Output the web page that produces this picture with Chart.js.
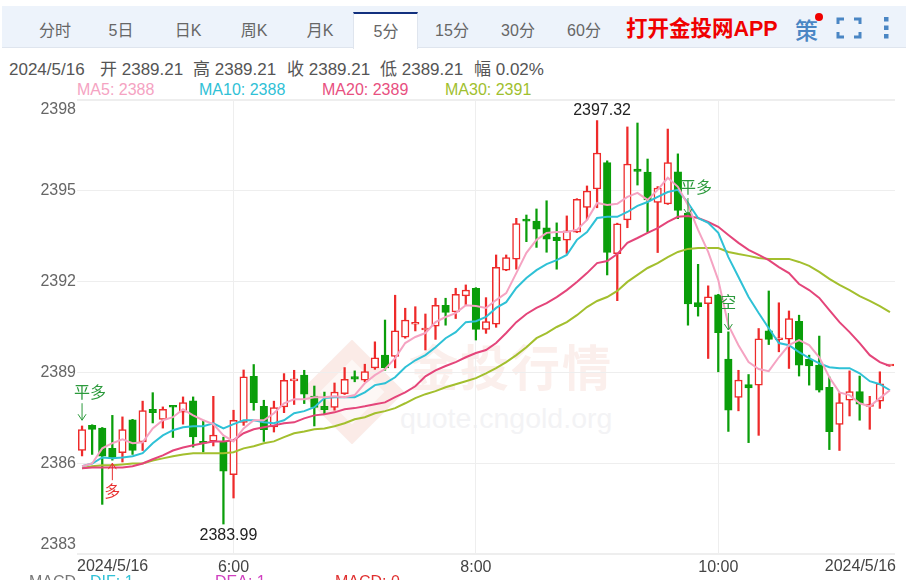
<!DOCTYPE html>
<html lang="zh">

<head>
    <meta charset="UTF-8">
    <title>5分K线</title>
    <script src="https://cdn.jsdelivr.net/npm/chart.js"></script>
    <style>
        html, body { margin: 0; padding: 0; background: #fff; overflow: hidden; }
        body { width: 912px; height: 580px; position: relative; font-family: "Liberation Sans", Arial, "Noto Sans CJK SC", sans-serif; color: #555; }
        .abs { position: absolute; white-space: nowrap; }
        #bar { left: 2px; top: 6px; width: 904px; height: 42px; background: #edf3fb; border-bottom: 1px solid #dfe5ee; box-sizing: border-box; }
        #active { left: 353px; top: 12px; width: 65px; height: 37px; background: #fff; border-top: 2px solid #12307e; border-left: 1px solid #dfe5ee; border-right: 1px solid #dfe5ee; box-sizing: border-box; }
        .tab { top: 21px; width: 66px; text-align: center; font-size: 16px; line-height: 20px; color: #666; font-family: "Liberation Sans", "Noto Sans CJK SC", sans-serif; }
        #app { left: 626px; top: 15px; font-size: 21.5px; line-height: 28px; font-weight: bold; color: #f00000; font-family: "Liberation Sans", "Noto Sans CJK SC", sans-serif; }
        #ce { left: 795px; top: 15px; font-size: 23px; line-height: 28px; font-weight: 500; color: #4a86c4; font-family: "Noto Sans CJK SC", sans-serif; }
        #dot { left: 815px; top: 13px; width: 8px; height: 8px; border-radius: 50%; background: #f00000; }
        #info { left: 9px; top: 60px; font-size: 17px; line-height: 20px; color: #555; }
        #info span { position: absolute; top: 0; }
        .ma { top: 81px; font-size: 16px; line-height: 18px; }
        .macd { top: 573px; font-size: 16px; line-height: 18px; }
        #diamond { left: 315px; top: 355px; width: 46px; height: 46px; transform: rotate(45deg); border: 14px solid #fbebe7; background: #fdf7f5; }
        #wm1 { left: 409px; top: 340px; font-size: 49px; line-height: 50px; font-weight: bold; color: #fbefec; letter-spacing: 2px; font-family: "Noto Sans CJK SC", sans-serif; }
        #wm2 { left: 400px; top: 402px; font-size: 28.5px; line-height: 32px; color: #f3f3f5; }
        canvas { position: absolute; left: 0; top: 0; }
    </style>
</head>

<body>
    <div class="abs" id="bar"></div>
    <div class="abs" id="active"></div>
    <div class="abs tab" style="left:22px">分时</div>
    <div class="abs tab" style="left:88px">5日</div>
    <div class="abs tab" style="left:155px">日K</div>
    <div class="abs tab" style="left:221px">周K</div>
    <div class="abs tab" style="left:287px">月K</div>
    <div class="abs tab" style="left:353px;top:22px">5分</div>
    <div class="abs tab" style="left:419px">15分</div>
    <div class="abs tab" style="left:485px">30分</div>
    <div class="abs tab" style="left:551px">60分</div>
    <div class="abs" id="app">打开金投网APP</div>
    <div class="abs" id="ce">策</div>
    <div class="abs" id="dot"></div>
    <svg class="abs" style="left:836px;top:16px" width="60" height="24">
        <path d="M2 8V3H8M18 3H24V8M24 16V21H18M8 21H2V16" fill="none" stroke="#4a86c4" stroke-width="3" />
        <rect x="48" y="1" width="4.5" height="4.5" fill="#4a86c4" />
        <rect x="48" y="9.5" width="4.5" height="4.5" fill="#4a86c4" />
        <rect x="48" y="18" width="4.5" height="4.5" fill="#4a86c4" />
    </svg>

    <div class="abs" id="info"><span style="left:0">2024/5/16</span><span style="left:91px">开 2389.21</span><span style="left:184px">高 2389.21</span><span style="left:278px">收 2389.21</span><span style="left:371px">低 2389.21</span><span style="left:465px">幅 0.02%</span></div>
    <div class="abs ma" style="left:77px;color:#f5a3c2">MA5: 2388</div>
    <div class="abs ma" style="left:199px;color:#2fc1d6">MA10: 2388</div>
    <div class="abs ma" style="left:322px;color:#e8507f">MA20: 2389</div>
    <div class="abs ma" style="left:445px;color:#9fc02e">MA30: 2391</div>

    <div class="abs" id="diamond"></div>
    <div class="abs" id="wm1">金投行情</div>
    <div class="abs" id="wm2">quote.cngold.org</div>

    <canvas id="kline" width="912" height="580"></canvas>

    <div class="abs macd" style="left:29px;color:#777">MACD</div>
    <div class="abs macd" style="left:90px;color:#2fc1d6">DIF: 1</div>
    <div class="abs macd" style="left:215px;color:#d040c0">DEA: 1</div>
    <div class="abs macd" style="left:335px;color:#e03030">MACD: 0</div>

    <script>
        const times = ['4:45','4:50','4:55','5:00','5:05','5:10','5:15','5:20','5:25','5:30','5:35','5:40','5:45','5:50','5:55','6:00','6:05','6:10','6:15','6:20','6:25','6:30','6:35','6:40','6:45','6:50','6:55','7:00','7:05','7:10','7:15','7:20','7:25','7:30','7:35','7:40','7:45','7:50','7:55','8:00','8:05','8:10','8:15','8:20','8:25','8:30','8:35','8:40','8:45','8:50','8:55','9:00','9:05','9:10','9:15','9:20','9:25','9:30','9:35','9:40','9:45','9:50','9:55','10:00','10:05','10:10','10:15','10:20','10:25','10:30','10:35','10:40','10:45','10:50','10:55','11:00','11:05','11:10','11:15','11:20','11:25'];
        const tickTimes = ['6:00', '8:00', '10:00'];
        const dateLabel = '2024/5/16';
        const priceTicks = [2383, 2386, 2389, 2392, 2395, 2398];

        const opens = [2386.42,2387.25,2387.16,2386.49,2386.35,2387.43,2386.70,2387.78,2387.45,2387.89,2387.69,2388.06,2386.72,2386.73,2386.70,2385.62,2387.35,2388.87,2387.88,2387.20,2387.86,2388.72,2388.91,2388.22,2387.88,2387.84,2388.30,2388.86,2388.74,2389.15,2389.57,2389.53,2390.16,2390.59,2390.40,2390.53,2391.22,2391.00,2391.53,2391.78,2390.42,2390.59,2392.38,2392.74,2394.06,2394.00,2393.78,2393.47,2393.37,2393.63,2394.45,2395.06,2395.93,2392.92,2394.04,2395.72,2395.62,2394.62,2394.57,2395.63,2394.26,2391.31,2391.27,2391.56,2389.44,2388.17,2388.60,2388.58,2390.37,2390.08,2390.10,2390.69,2389.43,2389.24,2388.51,2387.28,2388.08,2388.37,2387.88,2388.05,2389.21];
        const highs = [2387.23,2387.27,2387.18,2387.58,2387.53,2387.45,2388.05,2388.33,2387.86,2387.90,2388.19,2388.19,2387.42,2388.21,2386.86,2387.75,2389.08,2389.26,2388.08,2388.05,2388.96,2389.07,2389.07,2388.55,2388.35,2388.65,2389.16,2389.05,2389.27,2390.01,2390.73,2391.55,2391.12,2391.17,2390.93,2391.45,2391.45,2391.78,2391.89,2391.80,2391.47,2392.88,2392.88,2394.09,2394.20,2394.40,2394.67,2393.94,2394.17,2394.74,2395.16,2397.32,2395.99,2393.93,2397.11,2397.24,2396.05,2395.14,2397.04,2396.22,2394.28,2392.57,2391.86,2391.58,2390.34,2389.07,2388.93,2390.45,2391.69,2391.30,2391.03,2390.89,2389.57,2390.20,2388.85,2388.33,2389.05,2388.88,2388.21,2389.02,2389.21];
        const lows = [2386.24,2386.29,2384.64,2386.10,2386.04,2386.29,2386.42,2387.33,2387.16,2386.85,2387.29,2386.53,2386.37,2386.57,2383.99,2384.85,2387.25,2387.75,2386.72,2387.03,2387.67,2387.94,2387.97,2387.23,2387.61,2387.75,2388.27,2388.69,2388.69,2389.10,2389.07,2389.15,2390.13,2390.37,2389.74,2390.09,2390.56,2390.78,2391.22,2390.07,2390.29,2390.49,2392.36,2392.41,2393.32,2393.13,2392.97,2392.41,2392.93,2393.62,2394.04,2394.44,2392.22,2391.37,2393.78,2395.19,2393.63,2392.96,2394.55,2394.08,2390.56,2390.86,2389.46,2389.02,2387.05,2387.73,2386.68,2386.92,2389.92,2389.68,2389.13,2388.88,2388.58,2388.35,2386.45,2386.42,2387.56,2387.42,2387.12,2387.81,2389.21];
        const closes = [2387.11,2387.12,2386.23,2386.15,2387.11,2386.42,2387.74,2387.67,2387.78,2387.85,2388.00,2386.87,2386.66,2386.93,2385.74,2387.42,2388.85,2388.00,2387.11,2387.84,2388.74,2388.77,2388.28,2387.84,2387.77,2388.35,2388.77,2388.78,2389.03,2389.48,2389.15,2390.37,2390.73,2390.62,2390.43,2391.22,2390.98,2391.58,2391.72,2390.42,2390.68,2392.47,2392.79,2393.92,2394.00,2393.73,2393.40,2393.35,2393.68,2394.72,2394.99,2396.25,2392.96,2393.91,2395.88,2395.64,2394.70,2395.09,2395.93,2394.35,2391.26,2391.17,2391.50,2390.31,2387.75,2388.75,2388.49,2390.11,2390.09,2390.11,2390.78,2389.24,2389.21,2388.41,2387.04,2388.00,2388.37,2387.95,2387.95,2388.62,2389.21];

        const ma5 = [2385.90,2385.99,2386.49,2386.66,2386.79,2386.66,2386.69,2387.15,2387.42,2387.52,2387.78,2387.58,2387.42,2387.29,2386.92,2386.72,2387.15,2387.42,2387.42,2387.65,2387.98,2388.11,2388.11,2388.18,2388.18,2388.21,2388.18,2388.25,2388.64,2388.91,2389.11,2389.47,2389.97,2390.17,2390.30,2390.66,2390.83,2390.96,2391.22,2391.19,2391.13,2391.39,2391.62,2392.28,2392.95,2393.38,2393.61,2393.64,2393.64,2393.71,2394.04,2394.60,2394.53,2394.57,2394.80,2394.93,2394.70,2395.03,2395.43,2395.13,2394.53,2393.71,2392.98,2392.05,2390.56,2389.90,2389.34,2389.11,2389.04,2389.50,2389.90,2390.07,2389.90,2389.50,2388.84,2388.34,2388.25,2387.98,2387.88,2388.15,2388.41];
        const ma10 = [2385.90,2385.99,2386.19,2386.16,2386.19,2386.23,2386.33,2386.66,2386.92,2387.09,2387.19,2387.22,2387.22,2387.32,2387.15,2387.29,2387.42,2387.42,2387.35,2387.32,2387.42,2387.65,2387.72,2387.85,2388.15,2388.18,2388.18,2388.18,2388.34,2388.58,2388.64,2388.84,2389.17,2389.40,2389.57,2389.83,2390.13,2390.33,2390.66,2390.69,2390.83,2391.13,2391.32,2391.79,2392.12,2392.38,2392.58,2392.71,2392.88,2393.38,2393.64,2394.10,2394.14,2394.14,2394.30,2394.50,2394.63,2394.80,2394.96,2395.03,2394.60,2394.10,2393.94,2393.61,2392.81,2392.15,2391.49,2390.96,2390.46,2389.97,2389.90,2389.67,2389.47,2389.30,2389.17,2389.14,2389.14,2388.97,2388.71,2388.61,2388.41];
        const ma20 = [2385.83,2385.86,2385.86,2385.86,2385.86,2385.90,2385.99,2386.13,2386.26,2386.42,2386.52,2386.59,2386.66,2386.72,2386.72,2386.76,2386.99,2387.12,2387.19,2387.25,2387.32,2387.35,2387.48,2387.58,2387.62,2387.68,2387.78,2387.82,2387.88,2387.95,2388.01,2388.18,2388.34,2388.54,2388.87,2389.07,2389.21,2389.34,2389.50,2389.64,2389.74,2389.97,2390.30,2390.66,2390.93,2391.13,2391.29,2391.49,2391.72,2391.99,2392.28,2392.61,2392.68,2392.91,2393.28,2393.44,2393.61,2393.77,2393.97,2394.14,2394.17,2394.10,2393.97,2393.81,2393.54,2393.28,2393.05,2392.88,2392.71,2392.48,2392.28,2391.92,2391.72,2391.46,2391.06,2390.66,2390.33,2389.97,2389.57,2389.34,2389.21];
        const ma30 = [2385.83,2385.90,2385.93,2385.93,2385.96,2385.99,2385.99,2386.09,2386.16,2386.23,2386.29,2386.33,2386.33,2386.33,2386.33,2386.36,2386.49,2386.56,2386.66,2386.72,2386.86,2386.99,2387.05,2387.12,2387.15,2387.22,2387.32,2387.45,2387.52,2387.65,2387.72,2387.82,2387.98,2388.15,2388.28,2388.38,2388.51,2388.61,2388.71,2388.81,2388.97,2389.14,2389.34,2389.57,2389.83,2390.13,2390.30,2390.50,2390.66,2390.89,2391.16,2391.36,2391.49,2391.69,2391.99,2392.22,2392.45,2392.61,2392.81,2392.98,2393.08,2393.11,2393.11,2393.11,2392.98,2392.91,2392.85,2392.78,2392.75,2392.75,2392.75,2392.65,2392.52,2392.32,2392.09,2391.89,2391.72,2391.52,2391.36,2391.19,2390.99];

        // trade marks on the chart: text, candle index, price the arrow tip points at
        const signalText = ['平多', '多', '平多', '空'];
        const signalIdx = [0, 3, 60, 64];
        const signalPrice = [2387.42, 2386.0, 2394.2, 2390.4];

        const RED = '#ee2a2a';
        const GREEN = '#0a9e0a';
        const UP = closes.map((c, i) => c >= opens[i]);

        function candleColor(ctx) {
            return UP[ctx.dataIndex] ? RED : GREEN;
        }

        function maLine(label, data, color) {
            return {
                type: 'line', label: label, data: data, borderColor: color, borderWidth: 2,
                pointRadius: 0, tension: 0, order: 1
            };
        }

        // extra text the scales can't do: end dates, high/low and the signals
        const overlay = {
            id: 'overlay',
            afterDatasetsDraw(chart) {
                const c = chart.ctx, x = chart.scales.x, y = chart.scales.y;
                c.save();
                c.textBaseline = 'middle';
                c.font = '16px "Liberation Sans"';
                c.fillStyle = '#444';
                c.textAlign = 'left';
                c.fillText(dateLabel, x.left, 567);
                c.textAlign = 'right';
                c.fillText(dateLabel, x.right + 1, 567);

                c.textAlign = 'center';
                c.fillStyle = '#222';
                const hi = Math.max(...highs), lo = Math.min(...lows);
                c.fillText(hi.toFixed(2), x.getPixelForValue(highs.indexOf(hi)) + 5, y.getPixelForValue(hi) - 10);
                c.fillText(lo.toFixed(2), x.getPixelForValue(lows.indexOf(lo)) + 5, y.getPixelForValue(lo) + 12);

                signalText.forEach((t, i) => {
                    const px = x.getPixelForValue(signalIdx[i]), py = y.getPixelForValue(signalPrice[i]);
                    const color = t === '多' ? '#e83030' : '#2c9a3c';
                    const dir = t === '多' ? -1 : 1; // arrow up from below, or down from above
                    c.strokeStyle = color;
                    c.fillStyle = color;
                    c.lineWidth = 1;
                    c.beginPath();
                    c.moveTo(px, py - dir * 17);
                    c.lineTo(px, py);
                    c.moveTo(px - 4, py - dir * 6);
                    c.lineTo(px, py);
                    c.lineTo(px + 4, py - dir * 6);
                    c.stroke();
                    c.font = '16px "Noto Sans CJK SC"';
                    c.textAlign = 'center';
                    c.fillText(t, px + (t.length > 1 ? 8 : 0), py - dir * 28);
                });
                c.restore();
            }
        };

        new Chart(document.getElementById('kline'), {
            type: 'bar',
            data: {
                labels: times,
                datasets: [
                    maLine('MA5', ma5, '#f5a3c2'),
                    maLine('MA10', ma10, '#2fc1d6'),
                    maLine('MA20', ma20, '#e4457a'),
                    maLine('MA30', ma30, '#a3bf2e'),
                    {
                        label: 'body', data: opens.map((o, i) => [o, closes[i]]), grouped: false, order: 2,
                        barThickness: 7.5, minBarLength: 2, borderSkipped: false, borderWidth: 1.5,
                        borderColor: candleColor,
                        backgroundColor: ctx => UP[ctx.dataIndex] ? '#fff' : GREEN
                    },
                    {
                        label: 'wick', data: lows.map((l, i) => [l, highs[i]]), grouped: false, order: 3,
                        barThickness: 1.6, borderWidth: 0, backgroundColor: candleColor
                    }
                ]
            },
            options: {
                responsive: false,
                animation: false,
                events: [],
                layout: { autoPadding: false, padding: { top: 100, right: 17, left: 0, bottom: 0 } },
                plugins: { legend: { display: false }, tooltip: { enabled: false } },
                scales: {
                    x: {
                        afterFit: s => { s.height = 26; },
                        afterBuildTicks: s => { s.ticks = s.ticks.filter(t => tickTimes.includes(times[t.value])); },
                        border: { display: false },
                        grid: { color: '#eeeeee', offset: false, drawTicks: false },
                        ticks: {
                            autoSkip: false, maxRotation: 0, padding: 4, color: '#444',
                            font: { family: '"Liberation Sans"', size: 16 },
                            callback: function (v) { return this.getLabelForValue(v); }
                        }
                    },
                    y: {
                        min: priceTicks[0],
                        max: priceTicks[priceTicks.length - 1],
                        afterFit: s => { s.width = 77; },
                        afterBuildTicks: s => { s.ticks = priceTicks.map(v => ({ value: v })); },
                        border: { display: false },
                        grid: { color: '#eeeeee', drawTicks: false, lineWidth: c => (c.tick.value === priceTicks[0] || c.tick.value === priceTicks[5]) ? 2 : 1 },
                        ticks: {
                            padding: 1, color: '#666',
                            font: { family: '"Liberation Sans"', size: 16 },
                            // top and bottom labels sit inside the plot, an empty line shifts them
                            callback: v => v === priceTicks[5] ? ['', String(v)] : v === priceTicks[0] ? [String(v), ''] : String(v)
                        }
                    }
                }
            },
            plugins: [overlay]
        });
    </script>
</body>

</html>
